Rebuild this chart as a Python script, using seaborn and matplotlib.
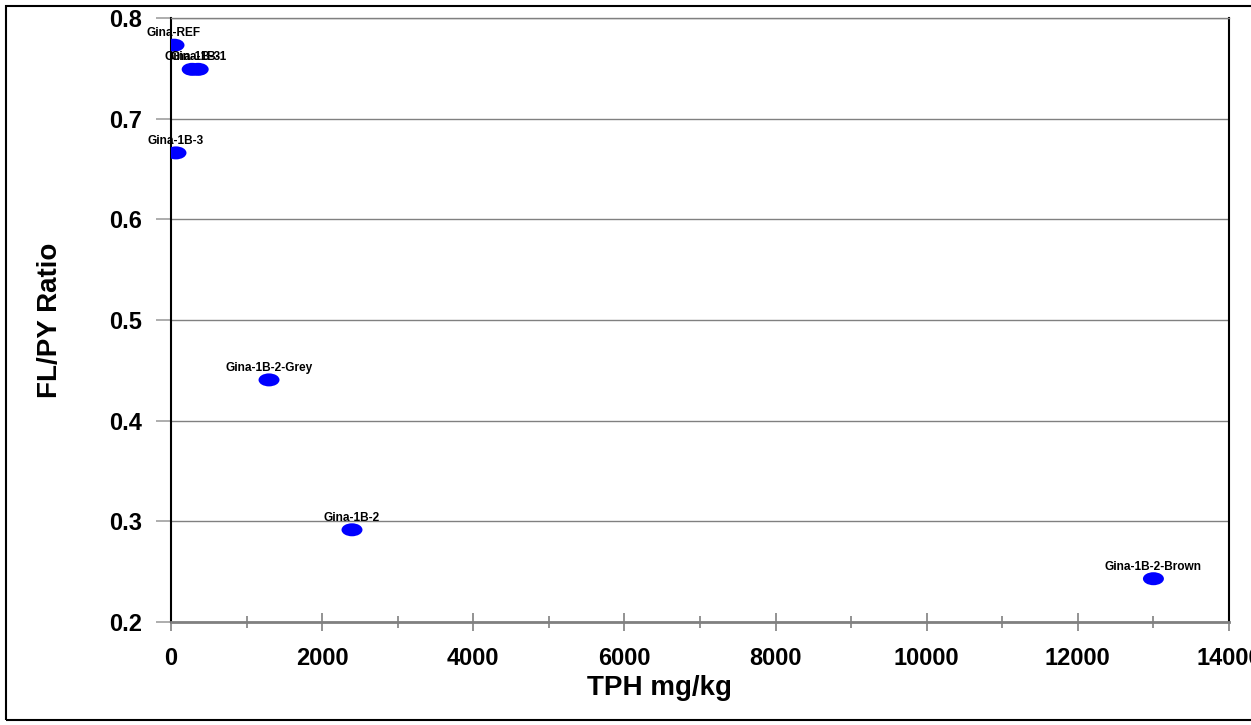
import matplotlib
matplotlib.use("Agg")
import matplotlib.pyplot as plt
import numpy as np
import pandas as pd
import seaborn as sns
from matplotlib.path import Path
from matplotlib.patches import Rectangle
from matplotlib.ticker import MultipleLocator, FormatStrFormatter

# valeurs
samples = ["Gina-REF", "Gina-1B-3", "Gina-1B-1", "Gina-1B-3",
           "Gina-1B-2-Grey", "Gina-1B-2", "Gina-1B-2-Brown"]
tph = [40, 280, 360, 66, 1297, 2395, 13000]
flpy = [0.773, 0.749, 0.749, 0.666, 0.4405, 0.2916, 0.243]

df = pd.DataFrame({"TPH": tph, "FLPY": flpy, "sample": samples})

sns.set_style("white")
plt.rcParams["font.family"] = ["Liberation Sans", "DejaVu Sans"]
plt.rcParams["text.color"] = "black"
plt.rcParams["axes.labelcolor"] = "black"

fig = plt.figure(figsize=(12.51, 7.25), dpi=100)
ax = fig.add_axes([171 / 1251, 1 - 622 / 725, (1229 - 171) / 1251, (622 - 18) / 725])

# marqueur ellipse
circle = Path.unit_circle()
ellipse = Path(circle.vertices * np.array([1.0, 0.62]), circle.codes)

sns.scatterplot(data=df, x="TPH", y="FLPY", ax=ax, marker=ellipse, s=228,
                color="#0000ff", edgecolor="none", linewidth=0, legend=False,
                zorder=3)

for x, y, s in zip(df["TPH"], df["FLPY"], df["sample"]):
    ax.annotate(s, (x, y), xytext=(0, 6.5), textcoords="offset points",
                ha="center", va="baseline", fontsize=8.6, fontweight="bold",
                color="black", zorder=4)

ax.set_xlim(0, 14000)
ax.set_ylim(0.2, 0.8)
ax.xaxis.set_major_locator(MultipleLocator(2000))
ax.xaxis.set_minor_locator(MultipleLocator(1000))
ax.yaxis.set_major_locator(MultipleLocator(0.1))
ax.yaxis.set_major_formatter(FormatStrFormatter("%.1f"))

ax.grid(axis="y", color="#808080", linewidth=1)
ax.grid(axis="x", visible=False)
ax.set_axisbelow(True)

ax.tick_params(axis="x", which="major", bottom=True, direction="inout",
               length=13, color="#808080", width=1.2, labelsize=17,
               labelcolor="black", pad=11.5)
ax.tick_params(axis="x", which="minor", bottom=True, direction="inout",
               length=8, color="#808080", width=1.2)
ax.tick_params(axis="y", left=True, direction="out", length=10.8,
               color="#a0a0a0", width=1.2, labelsize=17, labelcolor="black",
               pad=10)
for lab in ax.get_xticklabels() + ax.get_yticklabels():
    lab.set_fontweight("bold")

for side in ["left", "right"]:
    ax.spines[side].set_color("black")
    ax.spines[side].set_linewidth(1.5)
ax.spines["bottom"].set_color("#808080")
ax.spines["bottom"].set_linewidth(2)
ax.spines["top"].set_color("#808080")
ax.spines["top"].set_linewidth(1)

ax.set_xlabel("TPH mg/kg", fontsize=20, fontweight="bold", va="top")
ax.xaxis.set_label_coords((659 - 171) / 1058, (622 - 675) / 604)
ax.set_ylabel("FL/PY Ratio", fontsize=20, fontweight="bold")
ax.yaxis.set_label_coords((63 - 171) / 1058, 0.5)

# cadre extérieur
fig.patches.append(Rectangle((6 / 1251, 5 / 725), 1.2, 1 - 11 / 725,
                             transform=fig.transFigure, fill=False,
                             edgecolor="black", linewidth=1.5, zorder=0))

fig.savefig("out.png", dpi=100)
